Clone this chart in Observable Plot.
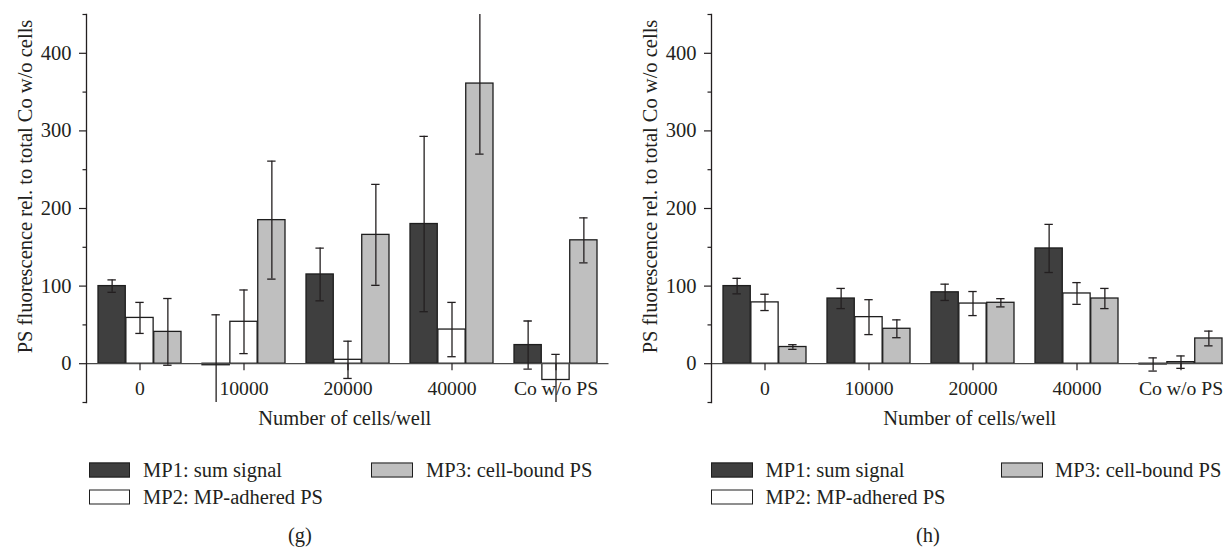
<!DOCTYPE html>
<html><head><meta charset="utf-8">
<script src="https://cdn.jsdelivr.net/npm/d3@7"></script>
<script src="https://cdn.jsdelivr.net/npm/@observablehq/plot@0.6"></script>
<style>
body{margin:0;background:#fff;}
#fig{position:relative;width:1223px;height:550px;overflow:hidden;font-family:"Liberation Serif","DejaVu Serif",serif;color:#231f20;background:#fff;}
.panel{position:absolute;top:0;width:615px;height:440px;}
.panel svg{max-width:none !important;}
.item{position:absolute;white-space:nowrap;font-size:20.5px;line-height:22px;transform:translateY(-50%);}
.sw{position:absolute;width:41.5px;height:15px;border:1.3px solid #1e1e1e;box-sizing:border-box;transform:translateY(-50%);}
.cap{position:absolute;font-size:20.5px;transform:translate(-50%,-50%);white-space:nowrap;}
</style></head><body><div id="fig"></div>
<script>
const categories = ["0", "10000", "20000", "40000", "Co w/o PS"];
const seriesNames = ["MP1: sum signal", "MP2: MP-adhered PS", "MP3: cell-bound PS"];
const yTicks = [0, 100, 200, 300, 400];
const yMinorTicks = [-50, 50, 150, 250, 350, 450];

// panel (g)
const gMP1 = [100, -2, 115, 180, 24];
const gMP1err = [8, 65, 34, 113, 31];
const gMP2 = [59, 54, 5, 44, -21];
const gMP2err = [20, 41, 24, 35, 33];
const gMP3 = [41, 185, 166, 361, 159];
const gMP3err = [43, 76, 65, 91, 29];

// panel (h)
const hMP1 = [100, 84, 92, 148.5, -1];
const hMP1err = [10, 13, 10.5, 31, 8.5];
const hMP2 = [79, 60, 77.5, 90.5, 2];
const hMP2err = [10.5, 22.5, 15.5, 14, 8];
const hMP3 = [21.5, 45, 78.5, 84, 32.5];
const hMP3err = [3, 11.5, 5.3, 13, 9.5];

const fills = ["#3f3f3f", "#ffffff", "#bfbfbf"];
const ink = "#231f20";

function makePanel(vals, errs) {
  const W = 615, H = 440, ML = 86, MR = 6.5, MT = 14, MB = 38;
  const step = (W - ML - MR) / 5;
  const bw = step * 0.8;
  const sub = bw / 3;
  const capHalf = 4.5;
  const marks = [];
  const rowsBy = [0, 1, 2].map(s => categories.map((c, i) => ({cat: c, v: vals[s][i], e: errs[s][i]})));
  for (let s = 0; s < 3; s++) {
    marks.push(Plot.barY(rowsBy[s], {
      x: "cat", y: "v", fill: fills[s], stroke: "#1e1e1e", strokeWidth: 1.3,
      insetLeft: s * sub, insetRight: (2 - s) * sub
    }));
  }
  marks.push(Plot.ruleY([0], {stroke: "#4a4a4a", strokeWidth: 1.3}));
  for (let s = 0; s < 3; s++) {
    const off = (s - 1) * sub;
    const inL = s * sub + sub / 2 - capHalf;
    const inR = (2 - s) * sub + sub / 2 - capHalf;
    marks.push(Plot.ruleX(rowsBy[s], {x: "cat", y1: d => d.v - d.e, y2: d => d.v + d.e, dx: off, stroke: ink, strokeWidth: 1.3, clip: true}));
    marks.push(Plot.tickY(rowsBy[s], {x: "cat", y: d => d.v + d.e, insetLeft: inL, insetRight: inR, stroke: ink, strokeWidth: 1.3, clip: true}));
    marks.push(Plot.tickY(rowsBy[s], {x: "cat", y: d => d.v - d.e, insetLeft: inL, insetRight: inR, stroke: ink, strokeWidth: 1.3, clip: true}));
  }
  // axes
  marks.push(Plot.frame({anchor: "left", stroke: ink, strokeWidth: 1.3}));
  marks.push(Plot.axisY({ticks: yTicks, tickSize: 7, tickPadding: 8, label: null, stroke: ink, fill: ink, strokeWidth: 1.2, fontSize: 20.5}));
  marks.push(Plot.axisY({ticks: yMinorTicks, tickSize: 3.5, label: null, fill: "none", stroke: ink, strokeWidth: 1.2}));
  marks.push(Plot.ruleX(categories, {x: d => d, y1: () => 0, y2: () => 0, insetBottom: -7, stroke: ink, strokeWidth: 1.2}));
  marks.push(Plot.text(categories, {x: d => d, y: () => 0, dy: 25, text: d => d, fill: ink, fontSize: 19.7}));
  marks.push(Plot.text(["Number of cells/well"], {frameAnchor: "bottom", dy: 22, dx: -3, text: d => d, fill: ink}));
  marks.push(Plot.text(["PS fluorescence rel. to total Co w/o cells"], {frameAnchor: "left", textAnchor: "middle", rotate: -90, dx: -61, dy: -22, text: d => d, fill: ink}));
  return Plot.plot({
    width: W, height: H, marginLeft: ML, marginRight: MR, marginTop: MT, marginBottom: MB,
    style: {fontFamily: '"Liberation Serif", serif', fontSize: "20.5px", background: "transparent", color: ink, overflow: "visible", maxWidth: "none"},
    x: {type: "band", domain: categories, paddingInner: 0.2, paddingOuter: 0.1, axis: null},
    y: {domain: [-50, 450], axis: null},
    marks
  });
}

const fig = document.getElementById("fig");
function addPanel(left, vals, errs, caption, legendPos, capX) {
  const div = document.createElement("div");
  div.className = "panel";
  div.style.left = left + "px";
  div.appendChild(makePanel(vals, errs));
  fig.appendChild(div);
  seriesNames.forEach((name, s) => {
    const [sx, tx, cy] = legendPos[s];
    const sw = document.createElement("div");
    sw.className = "sw";
    sw.style.left = sx + "px";
    sw.style.top = cy + "px";
    sw.style.background = fills[s];
    fig.appendChild(sw);
    const t = document.createElement("div");
    t.className = "item";
    t.style.left = tx + "px";
    t.style.top = cy + "px";
    t.textContent = name;
    fig.appendChild(t);
  });
  const c = document.createElement("div");
  c.className = "cap";
  c.style.left = capX + "px";
  c.style.top = "535px";
  c.textContent = caption;
  fig.appendChild(c);
}
addPanel(0, [gMP1, gMP2, gMP3], [gMP1err, gMP2err, gMP3err], "(g)",
  [[88.5, 143, 470], [88.5, 143, 497], [371, 426, 470]], 300);
addPanel(625, [hMP1, hMP2, hMP3], [hMP1err, hMP2err, hMP3err], "(h)",
  [[711, 765.5, 470], [711, 765.5, 497], [1001, 1055, 470]], 928);
</script>
</body></html>
